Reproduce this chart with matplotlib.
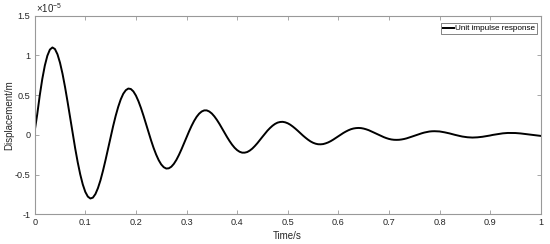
'''
Unit impulse response of the structure, displacement vs time
'''
import matplotlib
matplotlib.use('Agg')
import matplotlib.pyplot as plt

# ---------------------------------
# time samples (s) and displacement, in units of 1e-5 m
time_s = [round(0.005 * i, 3) for i in range(201)]
disp_e5 = [
     0.050,  0.259,  0.497,  0.704,  0.872,  0.996,  1.073,  1.100,  1.080,  1.014,
     0.908,  0.768,  0.600,  0.414,  0.218,  0.020, -0.170, -0.345, -0.498, -0.624,
    -0.718, -0.777, -0.801, -0.790, -0.745, -0.670, -0.571, -0.450, -0.316, -0.173,
    -0.030,  0.110,  0.239,  0.352,  0.446,  0.517,  0.562,  0.583,  0.577,  0.547,
     0.495,  0.424,  0.338,  0.241,  0.137,  0.032, -0.070, -0.165, -0.248, -0.318,
    -0.372, -0.407, -0.424, -0.421, -0.401, -0.365, -0.315, -0.253, -0.183, -0.108,
    -0.031,  0.043,  0.113,  0.175,  0.227,  0.267,  0.294,  0.308,  0.308,  0.294,
     0.269,  0.233,  0.189,  0.139,  0.084,  0.029, -0.026, -0.077, -0.123, -0.162,
    -0.192, -0.213, -0.224, -0.224, -0.216, -0.198, -0.173, -0.141, -0.105, -0.066,
    -0.025,  0.015,  0.053,  0.086,  0.115,  0.138,  0.154,  0.162,  0.164,  0.158,
     0.146,  0.128,  0.105,  0.079,  0.051,  0.021, -0.008, -0.035, -0.060, -0.082,
    -0.099, -0.111, -0.118, -0.119, -0.116, -0.107, -0.095, -0.079, -0.060, -0.039,
    -0.018,  0.004,  0.024,  0.042,  0.058,  0.071,  0.080,  0.085,  0.087,  0.085,
     0.079,  0.070,  0.059,  0.045,  0.030,  0.015, -0.001, -0.016, -0.029, -0.041,
    -0.051, -0.058, -0.062, -0.063, -0.062, -0.058, -0.052, -0.044, -0.034, -0.023,
    -0.012,  0.000,  0.010,  0.020,  0.029,  0.036,  0.042,  0.045,  0.046,  0.045,
     0.043,  0.038,  0.032,  0.025,  0.018,  0.009,  0.001, -0.007, -0.014, -0.021,
    -0.026, -0.030, -0.032, -0.034, -0.033, -0.031, -0.028, -0.024, -0.019, -0.013,
    -0.008, -0.001,  0.004,  0.010,  0.015,  0.019,  0.022,  0.024,  0.024,  0.024,
     0.023,  0.021,  0.018,  0.014,  0.010,  0.006,  0.002, -0.003, -0.007, -0.010,
    -0.013,
]
x_ticks = [0, 0.1, 0.2, 0.3, 0.4, 0.5, 0.6, 0.7, 0.8, 0.9, 1]
x_tick_labels = ['0', '0.1', '0.2', '0.3', '0.4', '0.5', '0.6', '0.7', '0.8', '0.9', '1']
y_ticks = [-1, -0.5, 0, 0.5, 1, 1.5]
y_tick_labels = ['-1', '-0.5', '0', '0.5', '1', '1.5']

# ---------------------------------
plt.rcParams['font.family'] = ['Liberation Sans', 'DejaVu Sans']
plt.rcParams['axes.unicode_minus'] = False
plt.rcParams['mathtext.default'] = 'regular'

txt_gray  = '#262626'
axis_gray = '#999999'

fig = plt.figure(figsize=(5.5, 2.44), dpi=100)
ax = fig.add_axes([0.0631, 0.1217, 0.92, 0.814])

ax.plot(time_s, disp_e5, color='black', lw=1.4, label='Unit impulse response')

ax.set_xlim(0, 1)
ax.set_ylim(-1, 1.5)
ax.set_xticks(x_ticks)
ax.set_xticklabels(x_tick_labels)
ax.set_yticks(y_ticks)
ax.set_yticklabels(y_tick_labels)

ax.tick_params(direction='in', length=3, width=0.6, color=axis_gray,
               labelcolor=txt_gray, labelsize=6.6, top=True, right=True, pad=3)
for spine in ax.spines.values():
    spine.set_linewidth(0.8)
    spine.set_color(axis_gray)

ax.set_xlabel('Time/s', fontsize=7, color=txt_gray)
ax.set_ylabel('Displacement/m', fontsize=7, color=txt_gray)
ax.xaxis.set_label_coords(0.5, -0.083)
ax.yaxis.set_label_coords(-0.040, 0.5)
ax.text(0.002, 1.005, r'$\times10^{-5}$', transform=ax.transAxes, fontsize=7,
        color=txt_gray, ha='left', va='bottom')

leg = ax.legend(loc='upper right', bbox_to_anchor=(0.992, 0.963), fontsize=5.9,
                frameon=True, fancybox=False, handlelength=1.3,
                handletextpad=0.15, borderpad=0.2, borderaxespad=0.0)
leg.get_frame().set_edgecolor(txt_gray)
leg.get_frame().set_linewidth(0.5)

fig.savefig('out.png', dpi=100)
